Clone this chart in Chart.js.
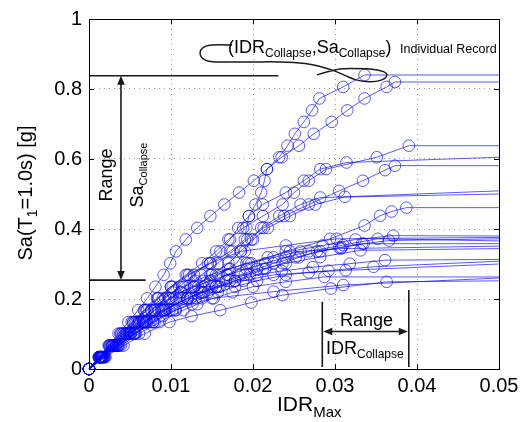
<!DOCTYPE html>
<html>
<head>
<meta charset="utf-8">
<script src="https://cdn.jsdelivr.net/npm/chart.js@4.4.1/dist/chart.umd.min.js"></script>
<style>
  html, body { margin: 0; padding: 0; background: #fff; }
  canvas { display: block; }
</style>
</head>
<body>
<canvas id="c" width="532" height="422"></canvas>
<script>
// ---- tick labels ----
const xTickLabels = ['0', '0.01', '0.02', '0.03', '0.04', '0.05'];
const yTickLabels = ['0', '0.2', '0.4', '0.6', '0.8', '1'];

// IDR at which the collapse plateau is drawn up to (right edge)
const plateauIdr = 0.05;

// ---- individual IDA records: IDR_max, Sa, plateau Sa ----
const rec01Idr = [0,.0012,.0024,.0036,.0048,.0060,.0071,.0081,.0091,.0099,.0106,.0118,.0132,.0148,.0165,.0183,.0201,.0217,.0232,.0242,.0251,.0262,.0272,.0281,.0310,.0336];
const rec01Sa  = [0,.034,.067,.101,.134,.168,.202,.235,.269,.302,.336,.370,.403,.437,.470,.504,.538,.571,.605,.638,.672,.706,.739,.773,.806,.840];
const rec01End = 0.840;

const rec02Idr = [0,.0014,.0028,.0042,.0056,.0070,.0085,.0102,.0122,.0148,.0172,.0190,.0192,.0195,.0203,.0210,.0214,.0217,.0235,.0256,.0274,.0296,.0315,.0336,.0363,.0373];
const rec02Sa  = [0,.034,.067,.101,.134,.168,.202,.235,.269,.302,.336,.370,.403,.437,.470,.504,.538,.571,.605,.638,.672,.706,.739,.773,.806,.820];
const rec02End = 0.820;

const rec03Idr = [0,.0013,.0026,.0040,.0054,.0068,.0084,.0100,.0118,.0138,.0155,.0170,.0188,.0212,.0236,.0250,.0268,.0289,.0351,.0390];
const rec03Sa  = [0,.034,.067,.101,.134,.168,.202,.235,.269,.302,.336,.370,.403,.437,.470,.504,.538,.571,.605,.638];
const rec03End = 0.638;

const rec04Idr = [0,.0014,.0029,.0045,.0060,.0076,.0093,.0110,.0128,.0145,.0160,.0172,.0182,.0195,.0212,.0240,.0262,.0282,.0314];
const rec04Sa  = [0,.034,.067,.101,.134,.168,.202,.235,.269,.302,.336,.370,.403,.437,.470,.504,.538,.571,.590];
const rec04End = 0.605;

const rec05Idr = [0,.0015,.0030,.0046,.0063,.0080,.0098,.0117,.0137,.0157,.0175,.0193,.0213,.0238,.0268,.0305,.0334,.0361,.0373];
const rec05Sa  = [0,.034,.067,.101,.134,.168,.202,.235,.269,.302,.336,.370,.403,.437,.470,.509,.538,.568,.581];
const rec05End = 0.581;

const rec06Idr = [0,.0015,.0031,.0048,.0066,.0085,.0106,.0128,.0150,.0170,.0185,.0200,.0218,.0245,.0276,.0312];
const rec06Sa  = [0,.034,.067,.101,.134,.168,.202,.235,.269,.302,.336,.370,.403,.437,.470,.492];
const rec06End = 0.509;

const rec07Idr = [0,.0016,.0033,.0050,.0068,.0088,.0110,.0133,.0158,.0180,.0190,.0198,.0210,.0232,.0258,.0282];
const rec07Sa  = [0,.034,.067,.101,.134,.168,.202,.235,.269,.302,.336,.370,.403,.437,.470,.490];
const rec07End = 0.500;

const rec08Idr = [0,.0016,.0033,.0051,.0070,.0092,.0115,.0140,.0168,.0198,.0240,.0294,.0336,.0355,.0369,.0387];
const rec08Sa  = [0,.034,.067,.101,.134,.168,.202,.235,.269,.302,.336,.372,.410,.438,.450,.461];
const rec08End = 0.461;

const rec09Idr = [0,.0014,.0028,.0044,.0061,.0080,.0100,.0112,.0125,.0140,.0155,.0172,.0192,.0218,.0245,.0285,.0325,.0371];
const rec09Sa  = [0,.034,.067,.101,.134,.168,.202,.219,.235,.252,.269,.286,.302,.319,.336,.353,.370,.381];
const rec09End = 0.380;

const rec10Idr = [0,.0016,.0033,.0051,.0071,.0094,.0120,.0135,.0150,.0167,.0185,.0205,.0225,.0252,.0282,.0308,.0335,.0366];
const rec10Sa  = [0,.034,.067,.101,.134,.168,.202,.219,.235,.252,.269,.286,.302,.319,.336,.347,.358,.367];
const rec10End = 0.372;

const rec11Idr = [0,.0013,.0027,.0042,.0058,.0076,.0098,.0112,.0128,.0148,.0170,.0192,.0215,.0240,.0268,.0310,.0352];
const rec11Sa  = [0,.034,.067,.101,.134,.168,.202,.219,.235,.252,.269,.286,.302,.319,.336,.354,.372];
const rec11End = 0.366;

const rec12Idr = [0,.0018,.0036,.0056,.0078,.0102,.0130,.0145,.0160,.0178,.0196,.0215,.0236,.0256,.0278,.0305,.0333];
const rec12Sa  = [0,.034,.067,.101,.134,.168,.202,.219,.235,.252,.269,.286,.302,.319,.336,.347,.358];
const rec12End = 0.358;

const rec13Idr = [0,.0012,.0025,.0039,.0054,.0071,.0090,.0102,.0115,.0130,.0148,.0170,.0195,.0225,.0258,.0307];
const rec13Sa  = [0,.034,.067,.101,.134,.168,.202,.219,.235,.252,.269,.286,.302,.319,.336,.344];
const rec13End = 0.351;

const rec14Idr = [0,.0017,.0035,.0054,.0075,.0098,.0124,.0140,.0155,.0172,.0190,.0212,.0240,.0282,.0331];
const rec14Sa  = [0,.034,.067,.101,.134,.168,.202,.219,.235,.252,.269,.286,.302,.320,.339];
const rec14End = 0.344;

const rec15Idr = [0,.0015,.0031,.0049,.0069,.0092,.0120,.0137,.0155,.0178,.0205,.0235,.0273,.0318,.0361];
const rec15Sa  = [0,.034,.067,.101,.134,.168,.202,.219,.235,.252,.269,.280,.291,.301,.311];
const rec15End = 0.313;

const rec16Idr = [0,.0018,.0037,.0057,.0080,.0106,.0138,.0157,.0178,.0205,.0240,.0292,.0347];
const rec16Sa  = [0,.034,.067,.101,.134,.168,.202,.219,.235,.252,.269,.281,.292];
const rec16End = 0.308;

const rec17Idr = [0,.0014,.0029,.0046,.0066,.0090,.0120,.0138,.0158,.0188,.0225,.0268,.0313];
const rec17Sa  = [0,.034,.067,.101,.134,.168,.202,.219,.235,.252,.269,.276,.282];
const rec17End = 0.300;

const rec18Idr = [0,.0019,.0039,.0061,.0086,.0115,.0132,.0152,.0175,.0200,.0240,.0287];
const rec18Sa  = [0,.034,.067,.101,.134,.168,.185,.202,.219,.235,.249,.263];
const rec18End = 0.263;

const rec19Idr = [0,.0020,.0042,.0068,.0098,.0125,.0160,.0198,.0236,.0295,.0363];
const rec19Sa  = [0,.034,.067,.101,.134,.151,.168,.190,.211,.230,.249];
const rec19End = 0.252;

const rec20Idr = [0,.0017,.0035,.0055,.0078,.0090,.0105,.0126,.0150,.0225,.0310];
const rec20Sa  = [0,.034,.067,.101,.134,.151,.168,.185,.202,.221,.240];
const rec20End = 0.260;

const rec21Idr = [0,.0012,.0025,.0038,.0052,.0067,.0083,.0100,.0120,.0148,.0185,.0240,.0302];
const rec21Sa  = [0,.034,.067,.101,.134,.168,.202,.235,.269,.302,.336,.353,.372];
const rec21End = 0.376;

const records = [
  [rec01Idr, rec01Sa, rec01End], [rec02Idr, rec02Sa, rec02End],
  [rec03Idr, rec03Sa, rec03End], [rec04Idr, rec04Sa, rec04End],
  [rec05Idr, rec05Sa, rec05End], [rec06Idr, rec06Sa, rec06End],
  [rec07Idr, rec07Sa, rec07End], [rec08Idr, rec08Sa, rec08End],
  [rec09Idr, rec09Sa, rec09End], [rec10Idr, rec10Sa, rec10End],
  [rec11Idr, rec11Sa, rec11End], [rec12Idr, rec12Sa, rec12End],
  [rec13Idr, rec13Sa, rec13End], [rec14Idr, rec14Sa, rec14End],
  [rec15Idr, rec15Sa, rec15End], [rec16Idr, rec16Sa, rec16End],
  [rec17Idr, rec17Sa, rec17End], [rec18Idr, rec18Sa, rec18End],
  [rec19Idr, rec19Sa, rec19End], [rec20Idr, rec20Sa, rec20End],
  [rec21Idr, rec21Sa, rec21End]
];

// ---- annotation values (data units) ----
const saCollapseMax = 0.838, saCollapseMin = 0.254;
const idrCollapseMin = 0.02845, idrCollapseMax = 0.0390;

const FONT = '"Liberation Sans", Arial, Helvetica, sans-serif';
const LINE = 'rgba(0,0,255,0.65)';

const datasets = records.map(([idr, sa, end]) => {
  const pts = idr.map((v, i) => ({ x: v, y: sa[i] }));
  pts.push({ x: plateauIdr, y: end });
  const radii = pts.map((p, i) => i === pts.length - 1 ? 0 : 5.8);
  return {
    data: pts,
    showLine: true,
    borderColor: LINE,
    borderWidth: 1,
    pointRadius: radii,
    pointHoverRadius: radii,
    pointBorderColor: LINE,
    pointBackgroundColor: 'rgba(0,0,0,0)',
    pointBorderWidth: 1,
    pointStyle: 'circle',
    tension: 0,
    clip: false
  };
});

function drawParts(ctx, x0, y0, parts) {
  let x = x0;
  parts.forEach(p => {
    ctx.font = p.size + 'px ' + FONT;
    ctx.fillText(p.t, x, y0 + (p.dy || 0));
    x += ctx.measureText(p.t).width;
  });
}
function partsWidth(ctx, parts) {
  let w = 0;
  parts.forEach(p => { ctx.font = p.size + 'px ' + FONT; w += ctx.measureText(p.t).width; });
  return w;
}
function arrowHead(ctx, x, y, dx, dy) {
  const L = 9, W = 3.8;
  const nx = -dy, ny = dx;
  ctx.beginPath();
  ctx.moveTo(x, y);
  ctx.lineTo(x - dx * L + nx * W, y - dy * L + ny * W);
  ctx.lineTo(x - dx * L - nx * W, y - dy * L - ny * W);
  ctx.closePath();
  ctx.fill();
}

const annotPlugin = {
  id: 'annot',
  afterDraw(chart) {
    const { ctx, chartArea: ca } = chart;
    const xs = chart.scales.x, ys = chart.scales.y;
    const X = v => xs.getPixelForValue(v), Y = v => ys.getPixelForValue(v);
    ctx.save();
    ctx.strokeStyle = '#000';
    ctx.lineWidth = 1;
    ctx.strokeRect(Math.round(ca.left) + 0.5, Math.round(ca.top) + 0.5,
                   Math.round(ca.right - ca.left), Math.round(ca.bottom - ca.top));
    ctx.beginPath();
    for (let i = 1; i < xTickLabels.length - 1; i++) {
      const px = Math.round(X(i * 0.01)) + 0.5;
      ctx.moveTo(px, ca.bottom); ctx.lineTo(px, ca.bottom - 5);
      ctx.moveTo(px, ca.top); ctx.lineTo(px, ca.top + 5);
    }
    for (let i = 1; i < yTickLabels.length - 1; i++) {
      const py = Math.round(Y(i * 0.2)) + 0.5;
      ctx.moveTo(ca.left, py); ctx.lineTo(ca.left + 5, py);
      ctx.moveTo(ca.right, py); ctx.lineTo(ca.right - 5, py);
    }
    ctx.stroke();

    ctx.fillStyle = '#000';
    ctx.textBaseline = 'alphabetic';
    ctx.textAlign = 'left';

    const ytParts = [{ t: 'Sa(T', size: 20 }, { t: '1', size: 14, dy: 5 }, { t: '=1.0s) [g]', size: 20 }];
    ctx.save();
    ctx.translate(32, (ca.top + ca.bottom) / 2 - 1);
    ctx.rotate(-Math.PI / 2);
    drawParts(ctx, -partsWidth(ctx, ytParts) / 2, 0, ytParts);
    ctx.restore();
    drawParts(ctx, 277, 411, [{ t: 'IDR', size: 21 }, { t: 'Max', size: 15, dy: 6 }]);

    ctx.strokeStyle = '#1a1a1a';
    ctx.fillStyle = '#1a1a1a';
    ctx.lineWidth = 1.6;
    ctx.beginPath();
    ctx.moveTo(X(0), Y(saCollapseMax)); ctx.lineTo(X(0.0231), Y(saCollapseMax));
    ctx.moveTo(X(0), Y(saCollapseMin)); ctx.lineTo(X(0.0069), Y(saCollapseMin));
    const ax = X(0.0039);
    ctx.moveTo(ax, Y(saCollapseMax) + 6); ctx.lineTo(ax, Y(saCollapseMin) - 6);
    ctx.moveTo(X(idrCollapseMin), Y(0.192)); ctx.lineTo(X(idrCollapseMin), Y(0.006));
    ctx.moveTo(X(idrCollapseMax), Y(0.226)); ctx.lineTo(X(idrCollapseMax), Y(0.006));
    const ay = Y(0.107);
    ctx.moveTo(X(idrCollapseMin) + 6, ay); ctx.lineTo(X(idrCollapseMax) - 6, ay);
    ctx.stroke();
    arrowHead(ctx, ax, Y(saCollapseMax), 0, -1);
    arrowHead(ctx, ax, Y(saCollapseMin), 0, 1);
    arrowHead(ctx, X(idrCollapseMin) + 1, ay, -1, 0);
    arrowHead(ctx, X(idrCollapseMax) - 1, ay, 1, 0);

    const loop = [
      [0.01745, 0.9256], [0.01502, 0.9256], [0.01392, 0.9185], [0.01355, 0.9014],
      [0.01404, 0.8844], [0.01526, 0.8773], [0.01964, 0.8773], [0.02330, 0.8773],
      [0.02634, 0.8730], [0.02817, 0.8645], [0.02975, 0.8531], [0.03121, 0.8389],
      [0.03255, 0.8261], [0.03426, 0.8205], [0.03572, 0.8261], [0.03632, 0.8389],
      [0.03584, 0.8503], [0.03426, 0.8574], [0.03182, 0.8588], [0.03060, 0.8574],
      [0.02975, 0.8531], [0.02878, 0.8474], [0.02780, 0.8403]
    ].map(([a, b]) => [X(a), Y(b)]);
    ctx.lineWidth = 1.5;
    ctx.beginPath();
    ctx.moveTo(loop[0][0], loop[0][1]);
    for (let i = 0; i < loop.length - 1; i++) {
      const p0 = loop[Math.max(0, i - 1)], p1 = loop[i], p2 = loop[i + 1], p3 = loop[Math.min(loop.length - 1, i + 2)];
      ctx.bezierCurveTo(p1[0] + (p2[0] - p0[0]) / 6, p1[1] + (p2[1] - p0[1]) / 6,
                        p2[0] - (p3[0] - p1[0]) / 6, p2[1] - (p3[1] - p1[1]) / 6,
                        p2[0], p2[1]);
    }
    ctx.stroke();

    ctx.fillStyle = '#000';
    drawParts(ctx, 228, 53, [
      { t: '(IDR', size: 18 }, { t: 'Collapse', size: 12, dy: 4 },
      { t: ',Sa', size: 18 }, { t: 'Collapse', size: 12, dy: 4 }, { t: ')', size: 18 }
    ]);
    drawParts(ctx, 400, 53, [{ t: 'Individual Record', size: 12.5 }]);

    ctx.save();
    ctx.translate(112, 175);
    ctx.rotate(-Math.PI / 2);
    const rp = [{ t: 'Range', size: 18 }];
    drawParts(ctx, -partsWidth(ctx, rp) / 2, 0, rp);
    ctx.restore();

    ctx.save();
    ctx.translate(143, 175);
    ctx.rotate(-Math.PI / 2);
    const sp = [{ t: 'Sa', size: 18 }, { t: 'Collapse', size: 11, dy: 4 }];
    drawParts(ctx, -partsWidth(ctx, sp) / 2, 0, sp);
    ctx.restore();

    drawParts(ctx, 340, 326, [{ t: 'Range', size: 18 }]);
    drawParts(ctx, 326, 354, [{ t: 'IDR', size: 18 }, { t: 'Collapse', size: 12, dy: 4 }]);

    ctx.restore();
  }
};

new Chart(document.getElementById('c'), {
  type: 'scatter',
  data: { datasets },
  options: {
    responsive: false,
    animation: false,
    events: [],
    layout: { padding: { left: 0, right: 33, top: 17, bottom: 0 } },
    plugins: { legend: { display: false }, tooltip: { enabled: false } },
    scales: {
      x: {
        type: 'linear', min: 0, max: 0.05,
        afterFit: s => { s.height = 53; },
        afterBuildTicks: s => { s.ticks = xTickLabels.map((l, i) => ({ value: i * 0.01 })); },
        ticks: {
          color: '#000', padding: 5,
          font: { family: FONT, size: 20 },
          callback: (v, i) => xTickLabels[i]
        },
        grid: { color: '#9a9a9a', lineWidth: 1, drawTicks: false },
        border: { display: false, dash: [1, 4] }
      },
      y: {
        type: 'linear', min: 0, max: 1,
        afterFit: s => { s.width = 89; },
        afterBuildTicks: s => { s.ticks = yTickLabels.map((l, i) => ({ value: i * 0.2 })); },
        ticks: {
          color: '#000', padding: 7,
          font: { family: FONT, size: 20 },
          callback: (v, i) => yTickLabels[i]
        },
        grid: { color: '#9a9a9a', lineWidth: 1, drawTicks: false },
        border: { display: false, dash: [1, 4] }
      }
    }
  },
  plugins: [annotPlugin]
});
</script>
</body>
</html>
